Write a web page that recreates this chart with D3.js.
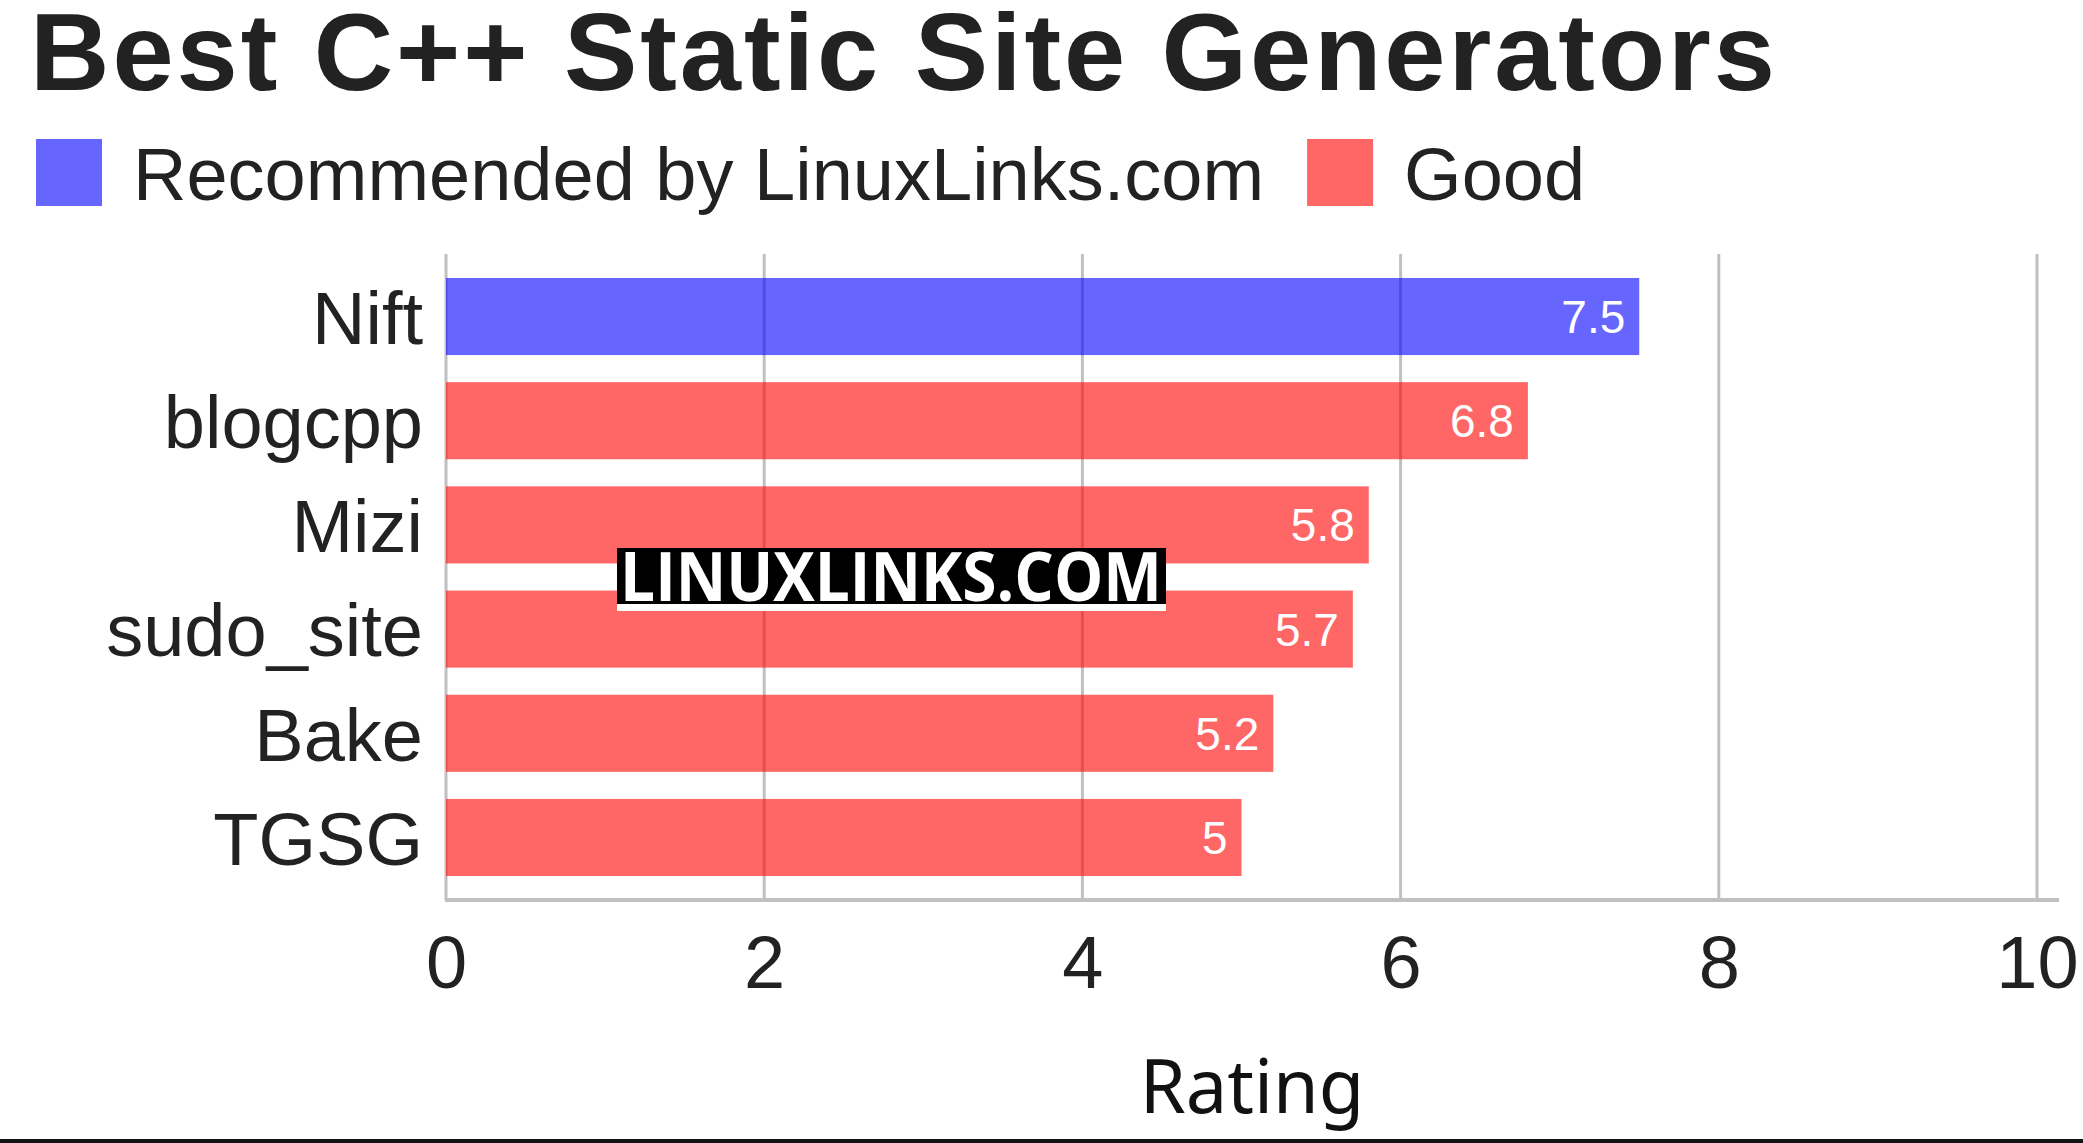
<!DOCTYPE html>
<html>
<head>
<meta charset="utf-8">
<script src="https://cdn.jsdelivr.net/npm/d3@7"></script>
<style>
  body { margin: 0; background: #fff; }
  text { font-family: "Liberation Sans", Arial, sans-serif; }
</style>
</head>
<body>
<div id="chart"></div>
<script>
// chart values
const names = ["Nift", "blogcpp", "Mizi", "sudo_site", "Bake", "TGSG"];
const ratings = [7.5, 6.8, 5.8, 5.7, 5.2, 5];
const groups = ["Recommended by LinuxLinks.com", "Good", "Good", "Good", "Good", "Good"];
const legendLabels = ["Recommended by LinuxLinks.com", "Good"];
const xTicks = [0, 2, 4, 6, 8, 10];
const titleText = "Best C++ Static Site Generators";
const axisTitle = "Rating";

const totalWidth = 2083, totalHeight = 1143;
const margin = {top: 254, left: 446, right: 2083 - 2037, bottom: 1143 - 900};

const svg = d3.select("#chart")
  .append("svg")
    .attr("width", totalWidth)
    .attr("height", totalHeight);

const x = d3.scaleLinear()
  .domain([0, 10])
  .range([margin.left, 2037]);

const y = d3.scaleBand()
  .domain(names)
  .range([margin.top, 900])
  .paddingInner(0.26)
  .paddingOuter(0.23);

const color = d3.scaleOrdinal()
  .domain(legendLabels)
  .range(["#0000ff", "#ff0000"]);

// Title
svg.append("text")
  .attr("x", 30)
  .attr("y", 90)
  .attr("font-size", 110)
  .attr("font-weight", "bold")
  .attr("fill", "#222")
  .attr("textLength", 1745)
  .attr("lengthAdjust", "spacing")
  .text(titleText);

// Legend
let lx = 36;
legendLabels.forEach((label, i) => {
  svg.append("rect")
    .attr("x", lx)
    .attr("y", 139)
    .attr("width", 66)
    .attr("height", 67)
    .attr("fill", color(label))
    .attr("fill-opacity", 0.6);
  const t = svg.append("text")
    .attr("x", lx + 97)
    .attr("y", 200)
    .attr("font-size", 74)
    .attr("fill", "#222")
    .text(label);
  lx = lx + 97 + t.node().getComputedTextLength() + 43;
});

// Gridlines
svg.append("g")
  .selectAll("line")
  .data(xTicks)
  .join("line")
    .attr("x1", d => x(d))
    .attr("x2", d => x(d))
    .attr("y1", margin.top)
    .attr("y2", 900)
    .attr("stroke", "#c0c0c0")
    .attr("stroke-width", 3);

// Bars
svg.append("g")
  .selectAll("rect")
  .data(names)
  .join("rect")
    .attr("x", x(0))
    .attr("y", d => y(d))
    .attr("width", (d, i) => x(ratings[i]) - x(0))
    .attr("height", y.bandwidth())
    .attr("fill", (d, i) => color(groups[i]))
    .attr("fill-opacity", 0.6);

// Value labels
svg.append("g")
  .selectAll("text")
  .data(names)
  .join("text")
    .attr("x", (d, i) => x(ratings[i]) - 14)
    .attr("y", d => y(d) + y.bandwidth() / 2)
    .attr("dy", "0.36em")
    .attr("text-anchor", "end")
    .attr("font-size", 46)
    .attr("fill", "#fff")
    .text((d, i) => ratings[i]);

// Category labels
svg.append("g")
  .selectAll("text")
  .data(names)
  .join("text")
    .attr("x", 423)
    .attr("y", d => y(d) + y.bandwidth() / 2)
    .attr("dy", "0.37em")
    .attr("text-anchor", "end")
    .attr("font-size", 74)
    .attr("fill", "#222")
    .text(d => d);

// X axis
const xAxis = svg.append("g")
  .attr("transform", "translate(0,900)")
  .call(d3.axisBottom(x).tickValues(xTicks).tickSize(0).tickPadding(88));
xAxis.select(".domain")
  .attr("d", "M" + (x(0) - 1) + ",0H2059")
  .attr("stroke", "#c0c0c0")
  .attr("stroke-width", 4);
xAxis.selectAll(".tick text")
  .attr("font-size", 74)
  .attr("font-family", "Liberation Sans, Arial, sans-serif")
  .attr("fill", "#222")
  .attr("dy", 0)
  .attr("y", 88);

// Axis title
svg.append("text")
  .attr("x", 1252)
  .attr("y", 1113)
  .attr("text-anchor", "middle")
  .attr("font-size", 74)
  .style("font-family", "'Noto Sans', sans-serif")
  .attr("fill", "#111")
  .text(axisTitle);

// Watermark
const wm = svg.append("g");
wm.append("rect")
  .attr("x", 617).attr("y", 548)
  .attr("width", 549).attr("height", 63)
  .attr("fill", "#fff");
wm.append("rect")
  .attr("x", 617).attr("y", 548)
  .attr("width", 549).attr("height", 56)
  .attr("fill", "#000");
wm.append("text")
  .attr("x", 620)
  .attr("y", 601)
  .attr("font-size", 68)
  .attr("font-weight", "bold")
  .style("font-family", "'Open Sans', sans-serif")
  .attr("fill", "#fff")
  .attr("textLength", 542)
  .attr("lengthAdjust", "spacingAndGlyphs")
  .text("LINUXLINKS.COM");

// bottom border
svg.append("rect")
  .attr("x", 0).attr("y", 1139)
  .attr("width", totalWidth).attr("height", 4)
  .attr("fill", "#111");
</script>
</body>
</html>
